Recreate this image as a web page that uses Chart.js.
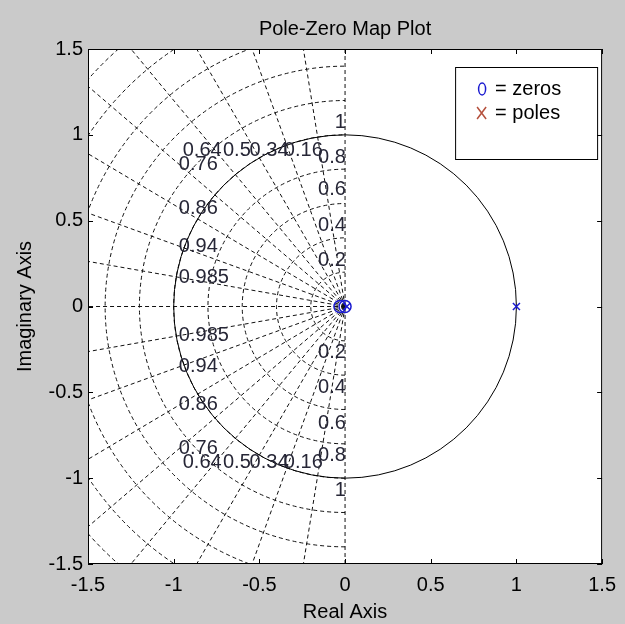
<!DOCTYPE html>
<html lang="en">
<head>
    <meta charset="UTF-8">
    <title>Pole-Zero Map Plot</title>
    <script src="https://cdn.jsdelivr.net/npm/chart.js"></script>
    <style>
        html, body { margin: 0; padding: 0; background: #cacaca; }
        .chart-container { position: relative; width: 625px; height: 624px; }
    </style>
</head>
<body>
    <div class="chart-container">
        <canvas id="pzChart" width="625" height="624"></canvas>
    </div>

    <script>
        // pole / zero locations (real part, imaginary part)
        const zeroRe = [-0.03, 0.0];
        const zeroIm = [0, 0];
        const poleRe = [0.01, 1.0];
        const poleIm = [0, 0];

        // s-plane grid: damping ratios and natural frequencies
        const dampingRatios = [0.16, 0.34, 0.5, 0.64, 0.76, 0.86, 0.94, 0.985];
        const naturalFreqs = [0.2, 0.4, 0.6, 0.8, 1.0, 1.2, 1.4, 1.6, 1.8, 2.0];

        // damping labels (upper half, mirrored in the lower half)
        const zetaLabelText = ['0.985', '0.94', '0.86', '0.76', '0.64', '0.5', '0.34', '0.16'];
        const zetaLabelX = [-0.97, -0.97, -0.97, -0.97, -0.72, -0.55, -0.33, -0.13];
        const zetaLabelY = [0.17, 0.35, 0.57, 0.83, 0.91, 0.91, 0.91, 0.91];
        const zetaLabelAlign = ['left', 'left', 'left', 'left', 'right', 'right', 'right', 'right'];

        // natural frequency labels along the imaginary axis
        const wnLabelText = ['0.2', '0.4', '0.6', '0.8', '1'];
        const wnLabelY = [0.27, 0.47, 0.68, 0.87, 1.07];

        const axisTicks = [-1.5, -1, -0.5, 0, 0.5, 1, 1.5];

        const legendText = ['= zeros', '= poles'];

        const FONT = "'Liberation Sans', Arial, sans-serif";
        Chart.defaults.font.family = FONT;
        Chart.defaults.color = '#000';

        const gridPlugin = {
            id: 'sgrid',
            beforeDatasetsDraw(chart) {
                const {ctx, chartArea: a, scales: {x, y}} = chart;
                const ox = x.getPixelForValue(0), oy = y.getPixelForValue(0);
                const ux = x.getPixelForValue(1) - ox, uy = oy - y.getPixelForValue(1);

                ctx.save();
                ctx.fillStyle = '#fff';
                ctx.fillRect(a.left, a.top, a.right - a.left, a.bottom - a.top);
                ctx.beginPath();
                ctx.rect(a.left, a.top, a.right - a.left, a.bottom - a.top);
                ctx.clip();

                ctx.strokeStyle = '#111';
                ctx.lineWidth = 1;
                ctx.setLineDash([4, 3]);

                // natural frequency semicircles
                naturalFreqs.forEach(wn => {
                    ctx.beginPath();
                    ctx.ellipse(ox, oy, wn * ux, wn * uy, 0, Math.PI / 2, 3 * Math.PI / 2);
                    ctx.stroke();
                });

                // damping rays
                dampingRatios.forEach(z => {
                    const s = Math.sqrt(1 - z * z);
                    [1, -1].forEach(sign => {
                        ctx.beginPath();
                        ctx.moveTo(ox, oy);
                        ctx.lineTo(x.getPixelForValue(-3 * z), y.getPixelForValue(sign * 3 * s));
                        ctx.stroke();
                    });
                });
                // zeta = 0 and zeta = 1
                ctx.beginPath();
                ctx.moveTo(ox, y.getPixelForValue(1.5));
                ctx.lineTo(ox, y.getPixelForValue(-1.5));
                ctx.moveTo(ox, oy);
                ctx.lineTo(x.getPixelForValue(-1.5), oy);
                ctx.stroke();

                // unit circle
                ctx.setLineDash([]);
                ctx.strokeStyle = '#000';
                ctx.beginPath();
                ctx.ellipse(ox, oy, ux, uy, 0, 0, 2 * Math.PI);
                ctx.stroke();

                // grid labels
                ctx.font = '20px ' + FONT;
                ctx.fillStyle = '#262636';
                ctx.textBaseline = 'middle';
                zetaLabelText.forEach((t, i) => {
                    ctx.textAlign = zetaLabelAlign[i];
                    [1, -1].forEach(sign => {
                        ctx.fillText(t, x.getPixelForValue(zetaLabelX[i]), y.getPixelForValue(sign * zetaLabelY[i]));
                    });
                });
                ctx.textAlign = 'right';
                wnLabelText.forEach((t, i) => {
                    [1, -1].forEach(sign => {
                        ctx.fillText(t, x.getPixelForValue(0.005), y.getPixelForValue(sign * wnLabelY[i]));
                    });
                });
                ctx.restore();
            },
            afterDraw(chart) {
                const {ctx, chartArea: a, scales: {x, y}} = chart;
                ctx.save();
                ctx.strokeStyle = '#000';
                ctx.lineWidth = 1;
                ctx.strokeRect(a.left + 0.5, a.top + 0.5, a.right - a.left - 1, a.bottom - a.top - 1);

                // inward tick marks on all four sides
                const tl = 5;
                ctx.beginPath();
                axisTicks.forEach(v => {
                    const px = Math.round(x.getPixelForValue(v)) + 0.5;
                    ctx.moveTo(px, a.top); ctx.lineTo(px, a.top + tl);
                    ctx.moveTo(px, a.bottom); ctx.lineTo(px, a.bottom - tl);
                    const py = Math.round(y.getPixelForValue(v)) + 0.5;
                    ctx.moveTo(a.left, py); ctx.lineTo(a.left + tl, py);
                    ctx.moveTo(a.right, py); ctx.lineTo(a.right - tl, py);
                });
                ctx.stroke();

                // legend box
                const lx = a.right - 147, ly = a.top + 18, lw = 142, lh = 92;
                ctx.fillStyle = '#fff';
                ctx.fillRect(lx, ly, lw, lh);
                ctx.strokeRect(lx + 0.5, ly + 0.5, lw, lh);

                // zero marker
                ctx.strokeStyle = '#1a1ad0';
                ctx.lineWidth = 1.5;
                ctx.beginPath();
                ctx.ellipse(lx + 27, ly + 22, 3.5, 6, 0, 0, 2 * Math.PI);
                ctx.stroke();
                // pole marker
                ctx.strokeStyle = '#b5503c';
                ctx.beginPath();
                ctx.moveTo(lx + 22, ly + 40); ctx.lineTo(lx + 31, ly + 52);
                ctx.moveTo(lx + 31, ly + 40); ctx.lineTo(lx + 22, ly + 52);
                ctx.stroke();

                ctx.fillStyle = '#000';
                ctx.font = '20px ' + FONT;
                ctx.textAlign = 'left';
                ctx.textBaseline = 'middle';
                ctx.fillText(legendText[0], lx + 40, ly + 22);
                ctx.fillText(legendText[1], lx + 40, ly + 46);
                ctx.restore();
            }
        };

        const axisOpts = (titleText, titlePad, tickPad, fit) => ({
            type: 'linear',
            min: -1.5,
            max: 1.5,
            afterBuildTicks: s => { s.ticks = axisTicks.map(v => ({value: v})); },
            afterFit: fit,
            grid: {display: false, drawTicks: false},
            border: {display: false},
            ticks: {
                font: {size: 20},
                color: '#000',
                padding: tickPad,
                autoSkip: false,
                maxRotation: 0,
                callback: v => String(v)
            },
            title: {
                display: true,
                text: titleText,
                font: {size: 20},
                color: '#000',
                padding: titlePad
            }
        });

        new Chart(document.getElementById('pzChart'), {
            type: 'scatter',
            data: {
                datasets: [
                    {
                        label: 'zeros',
                        data: zeroRe.map((re, i) => ({x: re, y: zeroIm[i]})),
                        pointStyle: 'circle',
                        pointRadius: 6,
                        borderColor: '#1a1ad0',
                        backgroundColor: 'rgba(0,0,0,0)',
                        borderWidth: 1.5
                    },
                    {
                        label: 'poles',
                        data: poleRe.map((re, i) => ({x: re, y: poleIm[i]})),
                        pointStyle: 'crossRot',
                        pointRadius: 5,
                        borderColor: '#1a1ad0',
                        borderWidth: 1.5
                    }
                ]
            },
            options: {
                responsive: false,
                animation: false,
                devicePixelRatio: 1,
                layout: {padding: {left: 0, right: 21, top: 0, bottom: 0}},
                scales: {
                    x: axisOpts('Real Axis', {top: 0, bottom: 0}, 9, s => { s.height = 60; }),
                    y: axisOpts('Imaginary Axis', {top: 13, bottom: 0}, 5, s => { s.width = 88; })
                },
                plugins: {
                    legend: {display: false},
                    tooltip: {enabled: false},
                    title: {
                        display: true,
                        fullSize: false,
                        text: 'Pole-Zero Map Plot',
                        font: {size: 20, weight: 'normal'},
                        color: '#000',
                        padding: {top: 17, bottom: 8}
                    }
                }
            },
            plugins: [gridPlugin]
        });
    </script>
</body>
</html>
